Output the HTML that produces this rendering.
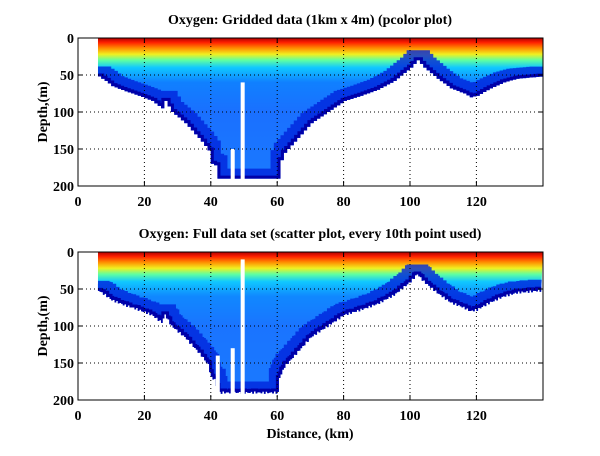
<!DOCTYPE html>
<html><head><meta charset="utf-8"><style>
body{margin:0;background:#fff;}
svg text{font-family:"Liberation Serif",serif;font-weight:bold;fill:#000;}
</style></head><body>
<svg id="s" width="600" height="451" viewBox="0 0 600 451" xmlns="http://www.w3.org/2000/svg">
<defs>
<linearGradient id="g1" gradientUnits="userSpaceOnUse" x1="0" y1="38" x2="0" y2="186">
<stop offset="0" stop-color="#b00000"/><stop offset="0.03" stop-color="#ff2000"/><stop offset="0.07" stop-color="#ff9000"/><stop offset="0.11" stop-color="#f0f020"/><stop offset="0.15" stop-color="#60ffa0"/><stop offset="0.2" stop-color="#10c8ff"/><stop offset="0.3" stop-color="#1080ff"/><stop offset="0.5" stop-color="#1a70ff"/><stop offset="1" stop-color="#1a7aff"/>
</linearGradient>
<linearGradient id="g2" gradientUnits="userSpaceOnUse" x1="0" y1="252" x2="0" y2="400">
<stop offset="0" stop-color="#b00000"/><stop offset="0.03" stop-color="#ff2000"/><stop offset="0.07" stop-color="#ff9000"/><stop offset="0.11" stop-color="#f0f020"/><stop offset="0.15" stop-color="#60ffa0"/><stop offset="0.2" stop-color="#10c8ff"/><stop offset="0.3" stop-color="#1088ff"/><stop offset="0.5" stop-color="#1a74ff"/><stop offset="1" stop-color="#1a7aff"/>
</linearGradient>
<clipPath id="c1"><path id="p1"/></clipPath>
<clipPath id="c2"><path id="p2"/></clipPath>
</defs>
<g id="plots"></g>
</svg>
<script>
var prof=[[6,52],[8,58],[10,65],[14,72],[18,78],[22,85],[25,95],[26,85],[28,100],[32,115],[35,130],[37,140],[39,152],[40,170],[41,172],[42,190],[60,190],[60.5,170],[62,155],[65,140],[70,115],[75,100],[80,85],[85,78],[90,70],[95,58],[100,40],[102,30],[104,40],[108,55],[112,68],[116,75],[118,80],[120,78],[124,68],[128,60],[132,55],[139.5,52]];
function depthAt(k){for(var i=0;i<prof.length-1;i++){if(k>=prof[i][0]&&k<=prof[i+1][0]){var t=(k-prof[i][0])/(prof[i+1][0]-prof[i][0]||1);return prof[i][1]+t*(prof[i+1][1]-prof[i][1]);}}return 52;}
var NS="http://www.w3.org/2000/svg";
function el(n,a,p){var e=document.createElementNS(NS,n);for(var k in a)e.setAttribute(k,a[k]);(p||document.getElementById('plots')).appendChild(e);return e;}
function build(top,id,title,jag,xlabel){
 var X=function(k){return 78+3.32*k},Y=function(d){return top+0.74*d};
 var step=jag?0.5:1, b="", E=139.5;
 for(var k=6;k<E;k+=step){var dd=depthAt(k);if(jag)dd+=Math.sin(k*5.3)*1.5;dd=Math.min(dd,192);b+=(b?" L":"M")+X(k)+","+Y(dd)+" L"+Math.min(X(k+step),543)+","+Y(dd);}
 var d="M"+X(6)+","+Y(0)+" L"+b.substring(1)+" L543,"+Y(0)+"Z";
 document.getElementById('p'+id).setAttribute('d',d);
 var g=el('g',{'clip-path':'url(#c'+id+')'});
 el('rect',{x:X(6),y:top,width:543-X(6),height:150,fill:'url(#g'+id+')'},g);
 el('path',{d:b,fill:'none',stroke:'#0024dc','stroke-width':20,'stroke-opacity':0.8},g);
 el('path',{d:b,fill:'none',stroke:'#0000a8','stroke-width':6},g);
 var gaps=id==1?[[46,150],[49,60]]:[[41.5,140],[46,130],[49,10]];
 gaps.forEach(function(q){el('rect',{x:X(q[0]),y:Y(q[1]),width:4,height:Y(200)-Y(q[1]),fill:'#fff'})});
 for(var v=20;v<=120;v+=20)el('line',{x1:X(v),y1:top,x2:X(v),y2:top+148,stroke:'#000','stroke-dasharray':'1,3','stroke-width':1});
 for(var v=50;v<=150;v+=50)el('line',{x1:78,y1:Y(v),x2:543,y2:Y(v),stroke:'#000','stroke-dasharray':'1,3','stroke-width':1});
 el('rect',{x:78,y:top,width:465,height:148,fill:'none',stroke:'#000','stroke-width':1});
 for(var v=0;v<=200;v+=50){el('line',{x1:78,y1:Y(v),x2:83,y2:Y(v),stroke:'#000'});el('line',{x1:538,y1:Y(v),x2:543,y2:Y(v),stroke:'#000'});var t=el('text',{x:74,y:Y(v)+5,'text-anchor':'end','font-size':14});t.textContent=v;}
 for(var v=0;v<=120;v+=20){el('line',{x1:X(v),y1:top+148,x2:X(v),y2:top+143,stroke:'#000'});el('line',{x1:X(v),y1:top,x2:X(v),y2:top+5,stroke:'#000'});var t=el('text',{x:X(v),y:top+168,'text-anchor':'middle','font-size':14});t.textContent=v;}
 var t=el('text',{x:310,y:top-14,'text-anchor':'middle','font-size':14});t.textContent=title;
 t=el('text',{x:0,y:0,'text-anchor':'middle','font-size':14,transform:'translate(47,'+(top+74)+') rotate(-90)'});t.textContent='Depth,(m)';
 if(xlabel){t=el('text',{x:310,y:top+186,'text-anchor':'middle','font-size':14});t.textContent=xlabel;}
}
build(38,1,'Oxygen: Gridded data (1km x 4m) (pcolor plot)',false);
build(252,2,'Oxygen: Full data set (scatter plot, every 10th point used)',true,'Distance, (km)');
</script>
</body></html>
